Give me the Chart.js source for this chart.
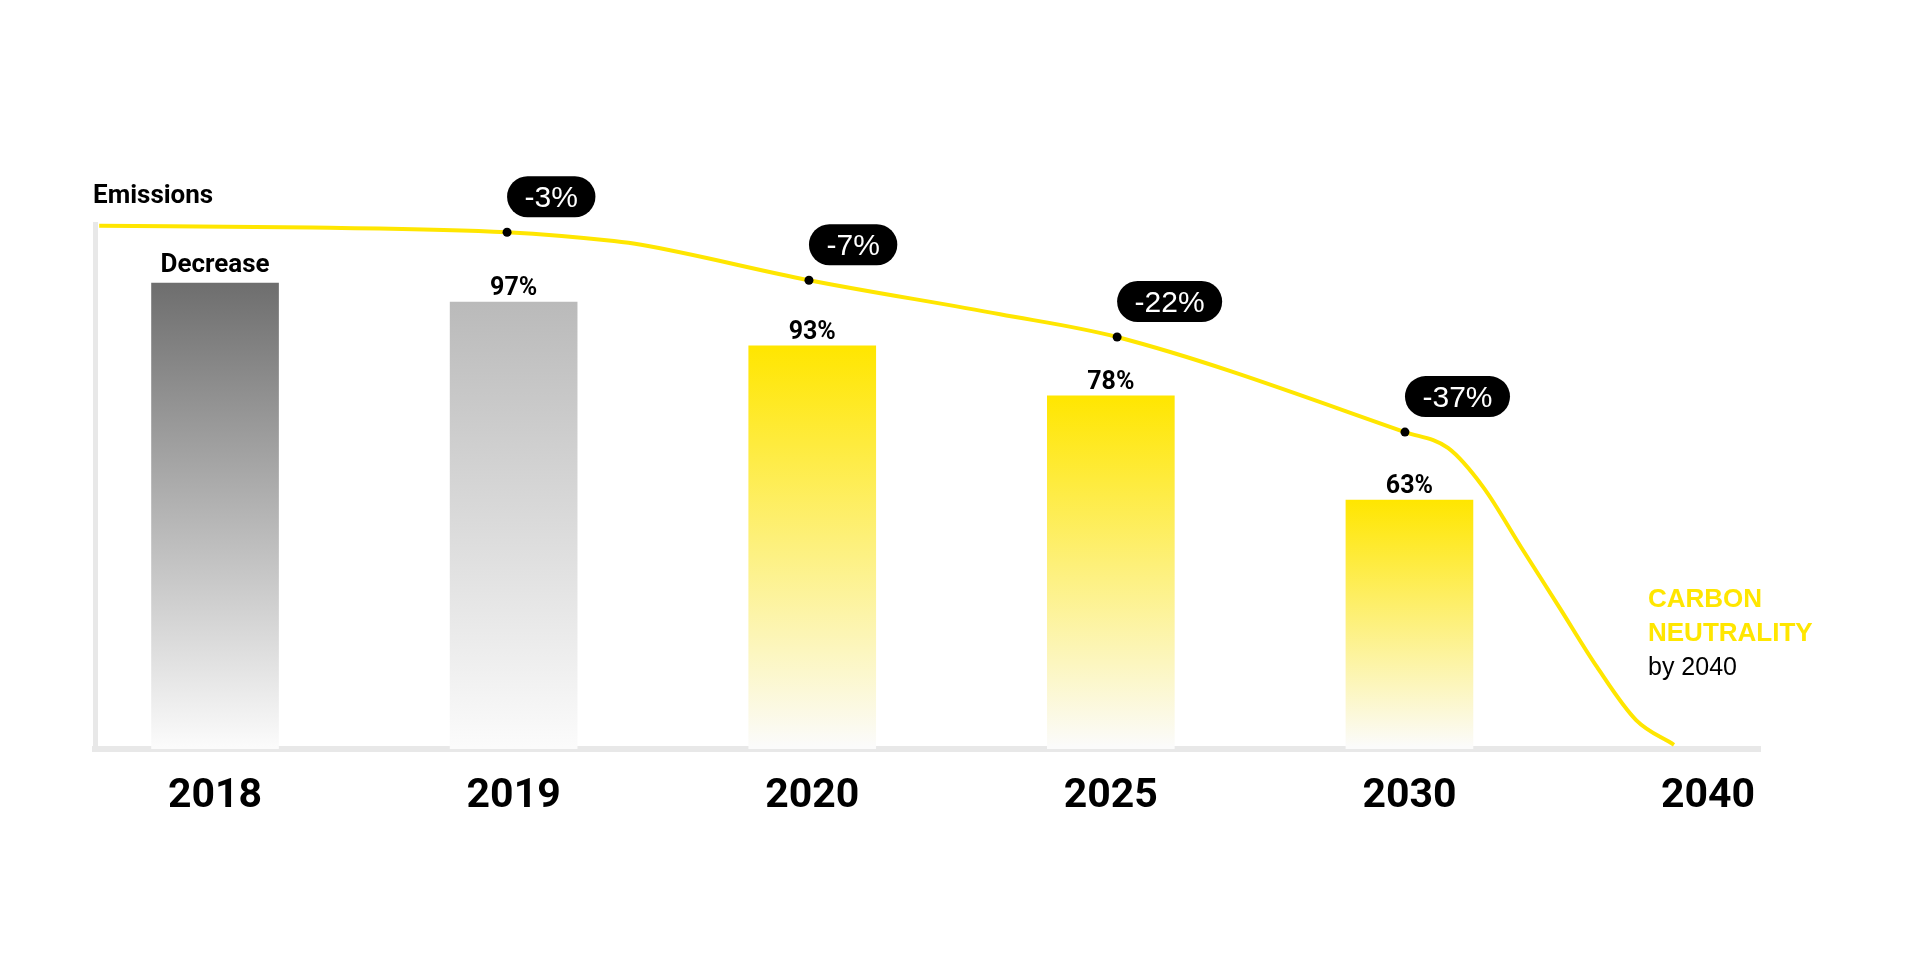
<!DOCTYPE html>
<html>
<head>
<meta charset="utf-8">
<script src="https://cdn.jsdelivr.net/npm/chart.js@4.4.1/dist/chart.umd.min.js"></script>
<style>
  html, body { margin: 0; padding: 0; background: #ffffff; }
  #wrap { width: 1920px; height: 967px; position: relative; }
</style>
</head>
<body>
<div id="wrap"><canvas id="chart"></canvas></div>
<script>
// ---- data ----
const years = ['2018', '2019', '2020', '2025', '2030', '2040'];
const barValues = [100, 95.9, 86.5, 75.8, 53.4];
const barLabels = ['Decrease', '97%', '93%', '78%', '63%'];
const curveX = [-0.388, 0.325, 0.978, 1.336, 1.427, 1.989, 2.629, 3.021, 3.985, 4.129, 4.247, 4.374, 4.501, 4.628, 4.759, 4.886];
const curveY = [112.3, 111.9, 110.9, 109.0, 108.2, 100.6, 93.3, 88.4, 68.0, 64.6, 56.2, 43.3, 30.5, 17.6, 6.2, 0.9];
const milestoneIdx = [2, 5, 7, 8];
const milestoneLabels = ['-3%', '-7%', '-22%', '-37%'];
const yAxisTitle = 'Emissions';
const noteLines = ['CARBON', 'NEUTRALITY', 'by 2040'];

// ---- styles ----
const YELLOW = '#ffe600';
const barTopColors = ['#6e6e6e', '#bababa', YELLOW, YELLOW, YELLOW];
const AXIS_GREY = '#e8e8e8';

const barGradient = (c) => {
  const chart = c.chart;
  const area = chart.chartArea;
  if (!area || c.type !== 'data') return barTopColors[c.dataIndex || 0];
  const top = chart.scales.y.getPixelForValue(barValues[c.dataIndex]);
  const g = chart.ctx.createLinearGradient(0, top, 0, area.bottom - 2);
  g.addColorStop(0, barTopColors[c.dataIndex]);
  g.addColorStop(1, '#fbfbfb');
  return g;
};

const decorPlugin = {
  id: 'decor',
  afterDraw(chart) {
    const ctx = chart.ctx;
    ctx.save();

    // axis title
    ctx.fillStyle = '#000';
    ctx.font = 'bold 26px Roboto';
    ctx.textAlign = 'left';
    ctx.textBaseline = 'alphabetic';
    ctx.fillText(yAxisTitle, 93, 203);

    // bar labels
    const barMeta = chart.getDatasetMeta(0);
    ctx.textAlign = 'center';
    barMeta.data.forEach((el, i) => {
      if (i === 0) {
        ctx.font = 'bold 26px Roboto';
        ctx.fillText(barLabels[i], el.x, el.y - 11);
      } else {
        ctx.font = 'bold 25px Roboto';
        ctx.fillText(barLabels[i], el.x, el.y - 7);
      }
    });

    // milestone pills
    const lineMeta = chart.getDatasetMeta(1);
    ctx.font = '30px "Liberation Sans"';
    milestoneIdx.forEach((idx, k) => {
      const pt = lineMeta.data[idx];
      const text = milestoneLabels[k];
      const tw = ctx.measureText(text).width;
      const w = tw + 35, h = 41;
      const left = pt.x, bottom = pt.y - 15, top = bottom - h;
      ctx.fillStyle = '#000';
      ctx.beginPath();
      ctx.roundRect(left, top, w, h, h / 2);
      ctx.fill();
      ctx.fillStyle = '#fff';
      ctx.textAlign = 'center';
      ctx.textBaseline = 'alphabetic';
      ctx.fillText(text, left + w / 2, top + h / 2 + 10.7);
    });

    // carbon neutrality note
    ctx.textAlign = 'left';
    ctx.fillStyle = YELLOW;
    ctx.font = 'bold 26px "Liberation Sans"';
    ctx.fillText(noteLines[0], 1648, 607);
    ctx.fillText(noteLines[1], 1648, 641);
    ctx.fillStyle = '#000';
    ctx.font = '25px "Liberation Sans"';
    ctx.fillText(noteLines[2], 1648, 675);

    ctx.restore();
  }
};

function build() {
  const ctx = document.getElementById('chart');
  new Chart(ctx, {
    type: 'bar',
    data: {
      datasets: [
        {
          type: 'bar',
          label: 'Emissions',
          data: barValues.map((v, i) => ({ x: i, y: v })),
          backgroundColor: barGradient,
          borderWidth: 0,
          barThickness: 127,
          order: 2
        },
        {
          type: 'line',
          label: 'Trajectory',
          data: curveX.map((x, i) => ({ x: x, y: curveY[i] })),
          borderColor: YELLOW,
          borderWidth: 4,
          cubicInterpolationMode: 'monotone',
          pointRadius: (c) => milestoneIdx.includes(c.dataIndex) ? 4.5 : 0,
          pointBackgroundColor: '#000',
          pointBorderWidth: 0,
          fill: false,
          clip: false,
          order: 1
        }
      ]
    },
    options: {
      responsive: true,
      maintainAspectRatio: false,
      devicePixelRatio: 1,
      animation: false,
      events: [],
      layout: { padding: { left: 95, right: 160, top: 224, bottom: 0 } },
      plugins: { legend: { display: false }, tooltip: { enabled: false } },
      scales: {
        x: {
          type: 'linear',
          offset: false,
          min: -0.402,
          max: 5.174,
          z: 1,
          afterBuildTicks: (s) => { s.ticks = years.map((_, i) => ({ value: i })); },
          afterFit: (s) => { s.height = 218; },
          ticks: {
            callback: (v) => years[v],
            font: { family: 'Roboto', weight: 'bold', size: 41 },
            color: '#000',
            padding: 23,
            maxRotation: 0,
            autoSkip: false
          },
          grid: { display: false, drawTicks: false, offset: false },
          border: { display: true, color: AXIS_GREY, width: 6 }
        },
        y: {
          min: 0,
          max: 112.66,
          z: 1,
          afterFit: (s) => { s.width = 0; },
          ticks: { display: false },
          grid: { display: false, drawTicks: false },
          border: { display: true, color: AXIS_GREY, width: 5 }
        }
      }
    },
    plugins: [decorPlugin]
  });
}

Promise.all([
  document.fonts.load('bold 41px Roboto'),
  document.fonts.load('30px "Liberation Sans"'),
  document.fonts.load('bold 26px "Liberation Sans"')
]).then(build, build);
</script>
</body>
</html>
